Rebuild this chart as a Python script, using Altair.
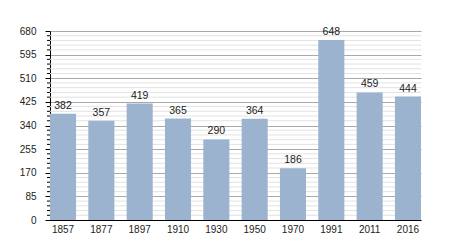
import altair as alt
import pandas as pd

years = ["1857", "1877", "1897", "1910", "1930", "1950", "1970", "1991", "2011", "2016"]
values = [382, 357, 419, 365, 290, 364, 186, 648, 459, 444]
major_ticks = [0, 85, 170, 255, 340, 425, 510, 595, 680]
minor_ticks = [v for v in range(0, 681, 17) if v not in major_ticks]

W, H = 371, 189
df = pd.DataFrame({"year": years, "value": values})
minor_df = pd.DataFrame({"v": minor_ticks})

yscale = alt.Scale(domain=[0, 680], nice=False, zero=True)
y_axis = alt.Axis(
    title=None, values=major_ticks, grid=True, gridColor="#a9a9a9",
    tickSize=5, tickColor="#000000", domainColor="#000000",
    labelFont="Liberation Sans", labelFontSize=10, labelColor="#222222",
    labelPadding=9,
)

minor_grid = alt.Chart(minor_df).mark_rule(color="#e2e2e2", strokeWidth=1).encode(
    y=alt.Y("v:Q", scale=yscale, axis=y_axis),
    x=alt.value(0),
    x2=alt.value(W),
)

minor_tick = alt.Chart(minor_df).mark_rule(color="#000000", strokeWidth=1).encode(
    y=alt.Y("v:Q", scale=yscale, axis=y_axis),
    x=alt.value(-3),
    x2=alt.value(0),
)

base = alt.Chart(df).encode(
    x=alt.X(
        "year:N",
        sort=years,
        scale=alt.Scale(paddingInner=0.32, paddingOuter=0),
        axis=alt.Axis(
            title=None, labelAngle=0, ticks=False, domainColor="#000000",
            labelFont="Liberation Sans", labelFontSize=10, labelColor="#222222",
            labelPadding=4,
        ),
    ),
    y=alt.Y("value:Q", scale=yscale, axis=y_axis),
)

bars = base.mark_bar(color="#9bb3cf")
labels = base.mark_text(
    baseline="bottom", dy=-3, font="Liberation Sans", fontSize=10.5, color="#222222"
).encode(text="value:Q")

chart = (
    alt.layer(minor_grid, minor_tick, bars, labels)
    .properties(
        width=W,
        height=H,
        autosize=alt.AutoSizeParams(type="none"),
        padding={"left": 50, "top": 31, "right": 29, "bottom": 30},
    )
    .configure_view(strokeWidth=0)
)

chart.save("out.html", embed_options={"renderer": "svg", "actions": False})
